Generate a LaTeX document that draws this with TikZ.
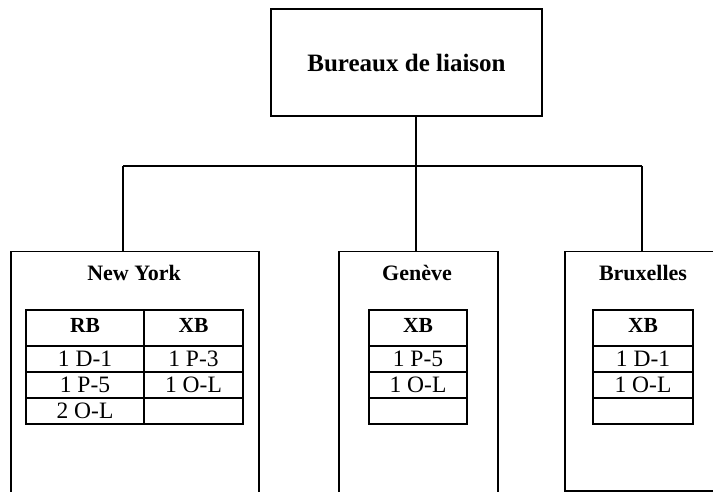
\documentclass[tikz,border=0pt]{standalone}
\usepackage{fontspec}
\setmainfont{Liberation Serif}
\begin{document}
\begin{tikzpicture}[x=1pt,y=-1pt,
  box/.style={draw,line width=1.5pt,inner sep=0pt},
  office/.style={font=\fontsize{22}{25}\selectfont\bfseries,anchor=base},
  cell/.style={draw,line width=2pt,inner sep=0pt,text height=14pt,text depth=0pt,
    font=\fontsize{23.5}{26}\selectfont},
  hcell/.style={cell,minimum height=36pt,font=\fontsize{21.5}{24}\selectfont\bfseries},
  rcell/.style={cell,minimum height=26pt},
  conn/.style={line width=1.5pt}]
\useasboundingbox (0,0) rectangle (713,492);
\clip (0,0) rectangle (713,492);
% top box
\node[box,line width=1.8pt,minimum width=271pt,minimum height=107pt,
  font=\fontsize{25}{28}\selectfont\bfseries] (top) at (406.5,62.5) {Bureaux de liaison};
% office boxes
\node[box,minimum width=248pt,minimum height=260pt,anchor=north west] (ny) at (10,251) {};
\node[box,minimum width=159pt,minimum height=260pt,anchor=north west] (ge) at (338,251) {};
\node[box,minimum width=170pt,minimum height=239pt,anchor=north west] (br) at (564,251) {};
% connectors
\coordinate (j) at (416,166);
\coordinate (jny) at (123,166);
\coordinate (jbr) at (642,166);
\draw[conn] (j |- top.south) -- (j |- ge.north);
\draw[conn] (jny) -- (jbr);
\draw[conn] (jny) -- (jny |- ny.north);
\draw[conn] (jbr) -- (jbr |- br.north);
% office titles
\node[office] (nyt) at (134,280) {New York};
\node[office] (get) at (417,280) {Genève};
\node[office] (brt) at (643,280) {Bruxelles};
% New York table
\node[hcell,minimum width=118pt] (ny11) at (85,328) {\raisebox{3pt}{RB}};
\node[hcell,minimum width=99pt] (ny12) at (193.5,328) {\raisebox{3pt}{XB}};
\node[rcell,minimum width=118pt] (ny21) at (85,359) {1 D-1};
\node[rcell,minimum width=99pt] (ny22) at (193.5,359) {1 P-3};
\node[rcell,minimum width=118pt] (ny31) at (85,385) {1 P-5};
\node[rcell,minimum width=99pt] (ny32) at (193.5,385) {1 O-L};
\node[rcell,minimum width=118pt] (ny41) at (85,411) {2 O-L};
\node[rcell,minimum width=99pt] (ny42) at (193.5,411) {};
% Geneve table
\node[hcell,minimum width=98pt] (ge1) at (418,328) {\raisebox{3pt}{XB}};
\node[rcell,minimum width=98pt] (ge2) at (418,359) {1 P-5};
\node[rcell,minimum width=98pt] (ge3) at (418,385) {1 O-L};
\node[rcell,minimum width=98pt] (ge4) at (418,411) {};
% Bruxelles table
\node[hcell,minimum width=100pt] (br1) at (643,328) {\raisebox{3pt}{XB}};
\node[rcell,minimum width=100pt] (br2) at (643,359) {1 D-1};
\node[rcell,minimum width=100pt] (br3) at (643,385) {1 O-L};
\node[rcell,minimum width=100pt] (br4) at (643,411) {};
\end{tikzpicture}
\end{document}
